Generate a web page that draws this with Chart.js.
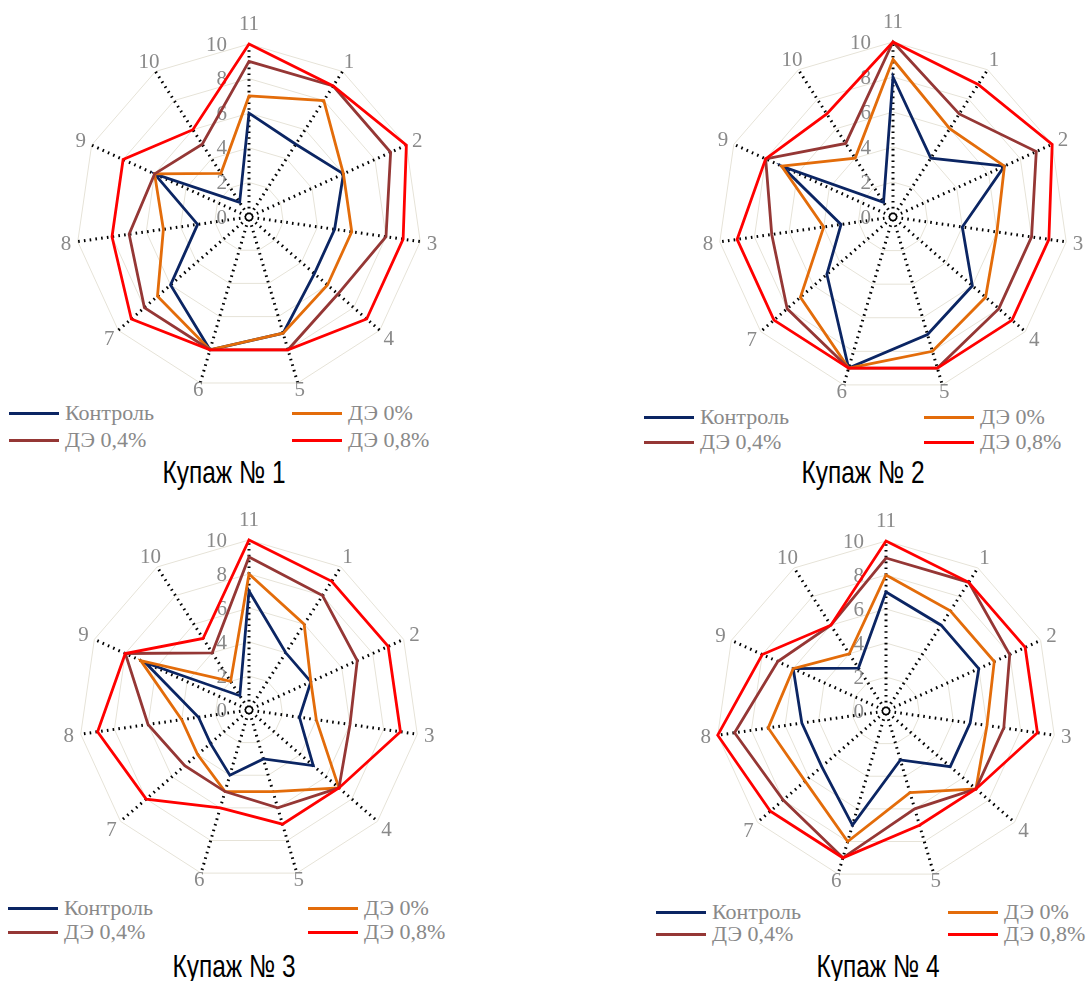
<!DOCTYPE html>
<html>
<head>
<meta charset="utf-8">
<script src="https://cdn.jsdelivr.net/npm/chart.js@4.4.1/dist/chart.umd.min.js"></script>
<style>
  html, body { margin: 0; padding: 0; background: #fff; }
  #page { position: relative; width: 1092px; height: 981px; overflow: hidden; background: #fff; }
  canvas.radar { position: absolute; }
  .leg { position: absolute; height: 24px; display: flex; align-items: center; white-space: nowrap;
         font-family: "Liberation Serif", "Tinos", "DejaVu Serif", "Noto Serif", serif; font-size: 22px; color: #898989; }
  .leg i { display: inline-block; width: 50px; height: 3px; margin-right: 6px; }
  .ttl { position: absolute; white-space: nowrap; font-size: 32px; color: #000; line-height: 1; }
</style>
</head>
<body>
<div id="page"></div>
<script>
// Axis order runs clockwise from the top spoke
const axisLabels = ['11', '1', '2', '3', '4', '5', '6', '7', '8', '9', '10'];
const tickValues = [0, 2, 4, 6, 8, 10];
const seriesNames = ['Контроль', 'ДЭ 0%', 'ДЭ 0,4%', 'ДЭ 0,8%'];
const chartTitles = ['Купаж № 1', 'Купаж № 2', 'Купаж № 3', 'Купаж № 4'];

// Купаж № 1
const blend1Control = [6, 5, 6, 5, 5, 7, 8, 6, 3, 6, 1];
const blend1De0     = [7, 8, 6, 6, 6, 7, 8, 7, 5, 6, 3];
const blend1De04    = [9, 9, 9, 8, 6.8, 8, 8, 8, 7, 6, 5];
const blend1De08    = [10, 9, 10, 9, 9, 8, 8, 9, 8, 8, 6];

// Купаж № 2
const blend2Control = [8, 4, 7, 4, 6, 7, 9, 5, 3, 7, 1];
const blend2De0     = [9, 6, 7, 6, 7, 8, 9, 7, 4, 7, 4];
const blend2De04    = [10, 7, 9, 8, 8, 9, 9, 8, 7, 8, 5];
const blend2De08    = [10, 9, 10, 9, 9, 9, 9, 9, 9, 8, 7];

// Купаж № 3
const blend3Control = [7, 4, 4, 3, 5, 3, 4, 3, 3, 6.7, 1];
const blend3De0     = [8, 6, 4, 4, 7, 5, 5, 4, 4, 7, 2];
const blend3De04    = [9, 8, 7, 6, 7, 6, 5, 5, 6, 8, 4];
const blend3De08    = [10, 9, 9, 9, 7, 7, 6, 8, 9, 8, 5];

// Купаж № 4
const blend4Control = [7, 6, 6, 5, 5, 3, 7, 5, 5, 6, 3];
const blend4De0     = [8, 7, 7, 6, 7, 5, 8, 6.3, 7, 6, 4];
const blend4De04    = [9, 9, 8, 7, 7, 6, 9, 8, 9, 7, 6];
const blend4De08    = [10, 9, 9, 9, 7, 7, 9, 9, 10, 8, 6];

const seriesColors = ['#0b2563', '#e36c0a', '#953735', '#ff0000'];
const textGray = '#898989';
const serifStack = '"Liberation Serif", "Tinos", "DejaVu Serif", "Noto Serif", serif';

// Panel geometry: canvas box on the page, radar centre and radius, legend and caption placement
const panels = [
  { data: [blend1Control, blend1De0, blend1De04, blend1De08], box: [0, 0, 546, 400],   cx: 249, cy: 217, r: 173,
    legCols: [9, 292],   legRows: [413, 440], title: [224, 472] },
  { data: [blend2Control, blend2De0, blend2De04, blend2De08], box: [546, 0, 546, 400], cx: 893, cy: 217, r: 175,
    legCols: [644, 924], legRows: [417, 442], title: [863, 472] },
  { data: [blend3Control, blend3De0, blend3De04, blend3De08], box: [0, 490, 546, 400], cx: 249, cy: 710, r: 170,
    legCols: [8, 308],   legRows: [908, 932], title: [234, 966] },
  { data: [blend4Control, blend4De0, blend4De04, blend4De08], box: [546, 490, 546, 400], cx: 886, cy: 711, r: 170,
    legCols: [656, 948], legRows: [912, 934], title: [878, 966] }
];

// Caption face: a narrow sans if present, otherwise a regular sans; squeezed to the caption width
const probe = document.createElement('canvas').getContext('2d');
function fontPresent(name) {
  probe.font = '32px monospace';
  const a = probe.measureText('Купаж № 1 mmmwww').width;
  probe.font = '32px "' + name + '", monospace';
  return probe.measureText('Купаж № 1 mmmwww').width !== a;
}
const narrowOk = fontPresent('Liberation Sans Narrow');
const titleFamily = narrowOk ? '"Liberation Sans Narrow", sans-serif' : '"Liberation Sans", Arimo, sans-serif';
const titleWidth = 123;

// Tick numbers sit just left of the top spoke; spoke numbers sit outside the rim
const radarText = {
  id: 'radarText',
  beforeDatasetsDraw(chart) {
    const s = chart.scales.r;
    const ctx = chart.ctx;
    ctx.save();
    ctx.fillStyle = textGray;
    ctx.font = '21px ' + serifStack;
    ctx.textBaseline = 'middle';
    ctx.textAlign = 'right';
    tickValues.forEach(v => {
      const d = s.getDistanceFromCenterForValue(v);
      ctx.fillText(String(v), s.xCenter - 22, s.yCenter - d + 1);
    });
    ctx.textAlign = 'center';
    chart.data.labels.forEach((lab, i) => {
      const c = Math.cos(s.getIndexAngle(i));
      const d = s.drawingArea + 12 + (c > 0.95 ? 9 : 0) + (c < -0.9 ? -5 : 0);
      const p = s.getPointPosition(i, d);
      ctx.fillText(lab, p.x, p.y + 1);
    });
    ctx.restore();
  }
};

const page = document.getElementById('page');

panels.forEach((pn, k) => {
  const [bx, by, bw, bh] = pn.box;
  const canvas = document.createElement('canvas');
  canvas.className = 'radar';
  canvas.width = bw; canvas.height = bh;
  canvas.style.left = bx + 'px'; canvas.style.top = by + 'px';
  canvas.style.width = bw + 'px'; canvas.style.height = bh + 'px';
  page.appendChild(canvas);

  const lx = pn.cx - bx - pn.r, ty = pn.cy - by - pn.r;
  const padding = { left: lx, top: ty, right: bw - lx - 2 * pn.r, bottom: bh - ty - 2 * pn.r };

  new Chart(canvas, {
    type: 'radar',
    data: {
      labels: axisLabels,
      datasets: pn.data.map((vals, j) => ({
        label: seriesNames[j],
        data: vals,
        borderColor: seriesColors[j],
        backgroundColor: seriesColors[j],
        borderWidth: 2.8,
        borderJoinStyle: 'miter',
        pointRadius: 0,
        fill: false,
        tension: 0,
        clip: false,
        order: 3 - j
      }))
    },
    options: {
      responsive: false,
      animation: false,
      devicePixelRatio: 1,
      layout: { padding },
      plugins: { legend: { display: false }, title: { display: false }, tooltip: { enabled: false } },
      scales: {
        r: {
          min: 0, max: 10,
          ticks: { display: false, stepSize: 2 },
          grid: { color: '#e6e3d8', lineWidth: 1 },
          angleLines: { color: '#000', lineWidth: 3, borderDash: [1.6, 4.2], borderDashOffset: 3 },
          pointLabels: { display: false }
        }
      }
    },
    plugins: [radarText]
  });

  // Legend: two columns, two rows
  const slots = [[0, 0], [1, 0], [0, 1], [1, 1]];
  seriesNames.forEach((name, j) => {
    const [c, rw] = slots[j];
    const el = document.createElement('div');
    el.className = 'leg';
    el.style.left = pn.legCols[c] + 'px';
    el.style.top = (pn.legRows[rw] - 12) + 'px';
    const sw = document.createElement('i');
    sw.style.background = seriesColors[j];
    el.appendChild(sw);
    el.appendChild(document.createTextNode(name));
    page.appendChild(el);
  });

  const t = document.createElement('div');
  t.className = 'ttl';
  t.style.fontFamily = titleFamily;
  t.style.left = pn.title[0] + 'px';
  t.style.top = pn.title[1] + 'px';
  t.textContent = chartTitles[k];
  page.appendChild(t);
  const squeeze = titleWidth / t.getBoundingClientRect().width;
  t.style.transform = 'translate(-50%, -50%) scaleX(' + squeeze.toFixed(3) + ')';
});
</script>
</body>
</html>
